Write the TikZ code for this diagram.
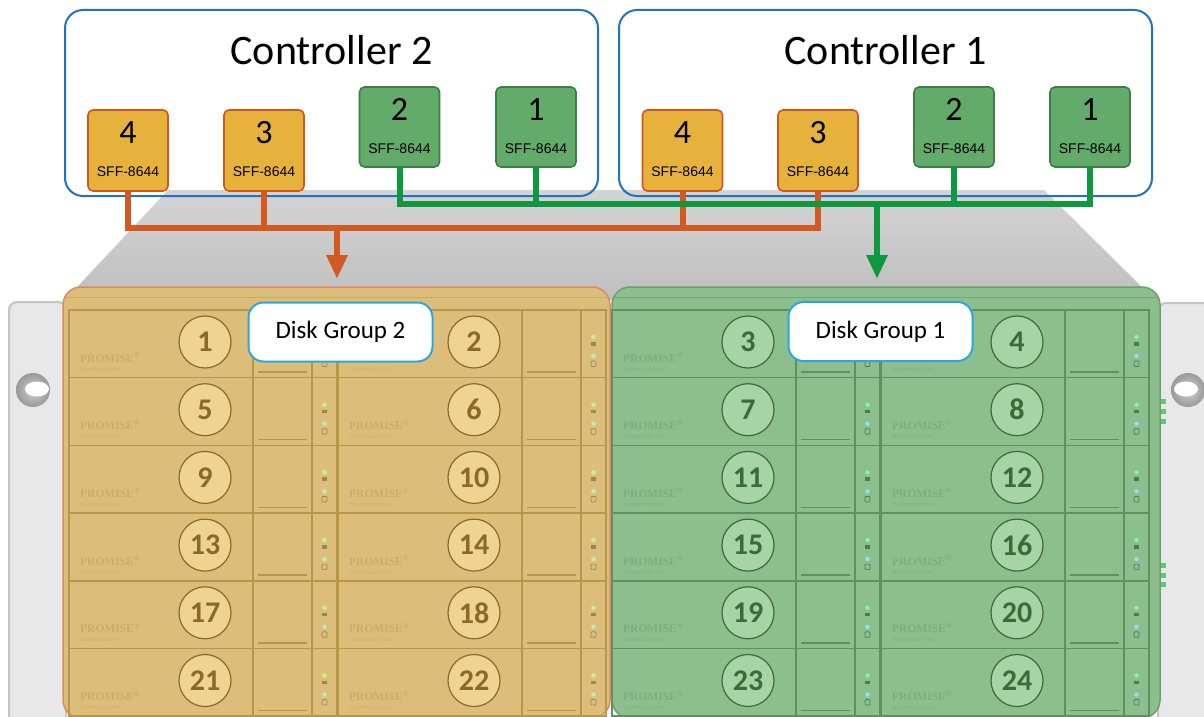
\documentclass[tikz,border=0pt]{standalone}
\usepackage{fontspec}
\setmainfont{Carlito}
\newfontfamily\arialfont{Liberation Sans}
\newfontfamily\timesfont{Liberation Serif}
\usetikzlibrary{arrows.meta}

\definecolor{ctrlblue}{HTML}{1F72C4}
\definecolor{labelblue}{HTML}{2BA6DF}
\definecolor{oportfill}{HTML}{E6B23C}
\definecolor{oportline}{HTML}{D4561F}
\definecolor{gportfill}{HTML}{62AB6A}
\definecolor{gportline}{HTML}{3F7D47}
\definecolor{obuscol}{HTML}{D05A22}
\definecolor{gbuscol}{HTML}{10983F}
\definecolor{oplate}{HTML}{DCBE7A}
\definecolor{oline}{HTML}{B89848}
\definecolor{ocirc}{HTML}{EFD390}
\definecolor{onum}{HTML}{8A6A26}
\definecolor{ologo}{HTML}{CCAD68}
\definecolor{oedge}{HTML}{DD8A62}
\definecolor{oled}{HTML}{C6D25C}
\definecolor{oledb}{HTML}{C2CC80}
\definecolor{oicon}{HTML}{9A8650}
\definecolor{gplate}{HTML}{8DBE8E}
\definecolor{gline}{HTML}{5F905F}
\definecolor{gcirc}{HTML}{A7D3A7}
\definecolor{gnum}{HTML}{3B6A3B}
\definecolor{glogo}{HTML}{7DAE7E}
\definecolor{gedge}{HTML}{6E9E6E}
\definecolor{gled}{HTML}{66D27C}
\definecolor{gledb}{HTML}{6EC6B0}
\definecolor{gicon}{HTML}{4F7A4F}
\definecolor{earfill}{HTML}{E8E8E8}
\definecolor{eardark}{HTML}{C4C4C4}
\definecolor{earled}{HTML}{5EC77A}

\tikzset{
	ctrl/.style = {draw = ctrlblue, line width = 2pt, rounded corners = 18pt, minimum width = 533pt, minimum height = 186pt, inner sep = 0pt},
	ctrltitle/.style = {font = \fontsize{42}{48}\selectfont, anchor = base, inner sep = 0pt},
	oport/.style = {draw = oportline, fill = oportfill, line width = 1.6pt, rounded corners = 5pt, minimum width = 80pt, minimum height = 81pt, inner sep = 0pt, outer sep = 0pt},
	gport/.style = {draw = gportline, fill = gportfill, line width = 1.6pt, rounded corners = 5pt, minimum width = 80pt, minimum height = 80pt, inner sep = 0pt, outer sep = 0pt},
	portno/.style = {font = \fontsize{34}{40}\selectfont, anchor = base, inner sep = 0pt},
	porttype/.style = {font = \arialfont\fontsize{14}{16}\selectfont, anchor = base, inner sep = 0pt},
	obus/.style = {draw = obuscol, line width = 6pt},
	gbus/.style = {draw = gbuscol, line width = 6pt},
	panel/.style = {draw = #1edge, fill = #1plate, line width = 1.5pt, rounded corners = 18pt},
	lip/.style = {draw = #1line, line width = 1pt, opacity = 0.5},
	bayframe/.style = {draw = #1line, line width = 1.5pt},
	bayno/.style = {circle, draw = #1num, fill = #1circ, text = #1num, line width = 1.2pt, minimum size = 52pt, inner sep = 0pt, font = \bfseries\fontsize{30}{34}\selectfont},
	logo/.style = {text = #1logo, font = \timesfont\bfseries\fontsize{11.5}{12}\selectfont, anchor = base west, inner sep = 0pt},
	maker/.style = {text = #1logo, font = \timesfont\fontsize{4.8}{5}\selectfont, anchor = base west, inner sep = 0pt},
	led/.style = {draw = #1, fill = #1!60!white, line width = 0.8pt},
	ear/.style = {draw = eardark, fill = earfill, line width = 2pt, rounded corners = 8pt},
	groupname/.style = {draw = labelblue, fill = white, line width = 2pt, rounded corners = 15pt, minimum width = 184pt, minimum height = 59pt, font = \fontsize{25}{30}\selectfont}
}

\begin{document}
\begin{tikzpicture}[x = 1pt, y = -1pt]
	
	\useasboundingbox (0, 0) rectangle (1204, 717);
	
	% chassis top and rack ears
	\shade[top color = gray!34, middle color = gray!22, bottom color = gray!50] (168, 190) -- (1044, 190) -- (1155, 300) -- (65, 300) -- cycle;
	\draw[ear] (9, 730) -- (9, 302) -- (66, 302) -- (66, 730);
	\draw[ear] (1158, 730) -- (1158, 303) -- (1220, 303) -- (1220, 730);
	\foreach \hx/\ox in {33/37, 1188/1186} {
		\shade[inner color = gray!35, outer color = gray!80] (\hx, 390) circle (17);
		\fill[white] (\ox, 389) ellipse (12 and 7.5);
	}
	
	\draw[panel = o] (63, 287) rectangle (610, 718);
	\draw[panel = g] (612, 287) rectangle (1160, 718);
	\draw[lip = o] (66, 297) -- (607, 297);
	\draw[lip = g] (615, 297) -- (1157, 297);
	
	\foreach \sy in {401, 411, 421, 565, 575, 584}
		\fill[earled] (1161, \sy - 2.5) rectangle ++(5, 5);
	
	% drive bays
	\foreach \c/\bx/\g in {1/69/o, 2/338/o, 3/612/g, 4/881/g}
	\foreach \r in {1, ..., 6} {
		\pgfmathsetmacro\by{310 + 67.7*(\r - 1)}
		\pgfmathtruncatemacro\n{4*(\r - 1) + \c}
		\draw[bayframe = \g] (\bx, \by) rectangle ++(268, 67.7)
			(\bx + 184, \by) -- ++(0, 67.7)
			(\bx + 243, \by) -- ++(0, 67.7)
			(\bx + 189, \by + 62) -- ++(49, 0);
		\node[logo = \g] (logo\n) at (\bx + 11, \by + 52) {PROMISE\textsuperscript{®}};
		\node[maker = \g] (maker\n) at (\bx + 11, \by + 61) {TECHNOLOGY INC.};
		\node[bayno = \g] (bay\n) at (\bx + 136, \by + 32) {\n};
		\draw[led = \g led] (\bx + 255.5, \by + 27) circle (2.8);
		\draw[led = \g ledb] (\bx + 255.5, \by + 46) circle (2.8);
		\fill[\g icon] (\bx + 253, \by + 32) rectangle ++(5, 3.5);
		\draw[\g icon, line width = 0.7pt, rounded corners = 1pt] (\bx + 253, \by + 51) rectangle ++(5, 5.5);
	}
	
	% controllers
	\node[ctrl] (c2) at (331.5, 103) {};
	\node[ctrl] (c1) at (885.5, 103) {};
	\node[ctrltitle] (c2title) at (331.5, 65) {Controller 2};
	\node[ctrltitle] (c1title) at (885.5, 65) {Controller 1};
	
	\node[oport] (c2p4) at (128, 150.5) {};
	\node[oport] (c2p3) at (264, 150.5) {};
	\node[gport] (c2p2) at (399.5, 127) {};
	\node[gport] (c2p1) at (536, 127) {};
	\node[oport] (c1p4) at (682.5, 150.5) {};
	\node[oport] (c1p3) at (818, 150.5) {};
	\node[gport] (c1p2) at (954, 127) {};
	\node[gport] (c1p1) at (1090, 127) {};
	
	\foreach \p/\n in {c2p4/4, c2p3/3, c2p2/2, c2p1/1, c1p4/4, c1p3/3, c1p2/2, c1p1/1} {
		\node[portno] (\p-no) at ([yshift = -33pt]\p.north) {\n};
		\node[porttype] (\p-type) at ([yshift = -66pt]\p.north) {SFF-8644};
	}
	
	% cabling to the disk groups
	\coordinate (ojoin) at (337, 228);
	\coordinate (otip) at (337, 279);
	\coordinate (gjoin) at (877, 204);
	\coordinate (gtip) at (877, 279);
	
	\draw[obus] (c2p4.south) |- (ojoin) -| (c1p3.south);
	\draw[obus] (c2p3.south) -- (c2p3.south |- ojoin);
	\draw[obus] (c1p4.south) -- (c1p4.south |- ojoin);
	\draw[obus, -{Triangle[width = 20pt, length = 24pt]}] (ojoin) -- (otip);
	
	\draw[gbus] (c2p2.south) |- (gjoin) -| (c1p1.south);
	\draw[gbus] (c2p1.south) -- (c2p1.south |- gjoin);
	\draw[gbus] (c1p2.south) -- (c1p2.south |- gjoin);
	\draw[gbus, -{Triangle[width = 20pt, length = 24pt]}] (gjoin) -- (gtip);
	
	\node[groupname] (grp2) at (340.5, 332) {Disk Group 2};
	\node[groupname] (grp1) at (880.5, 331.5) {Disk Group 1};
	
\end{tikzpicture}
\end{document}
